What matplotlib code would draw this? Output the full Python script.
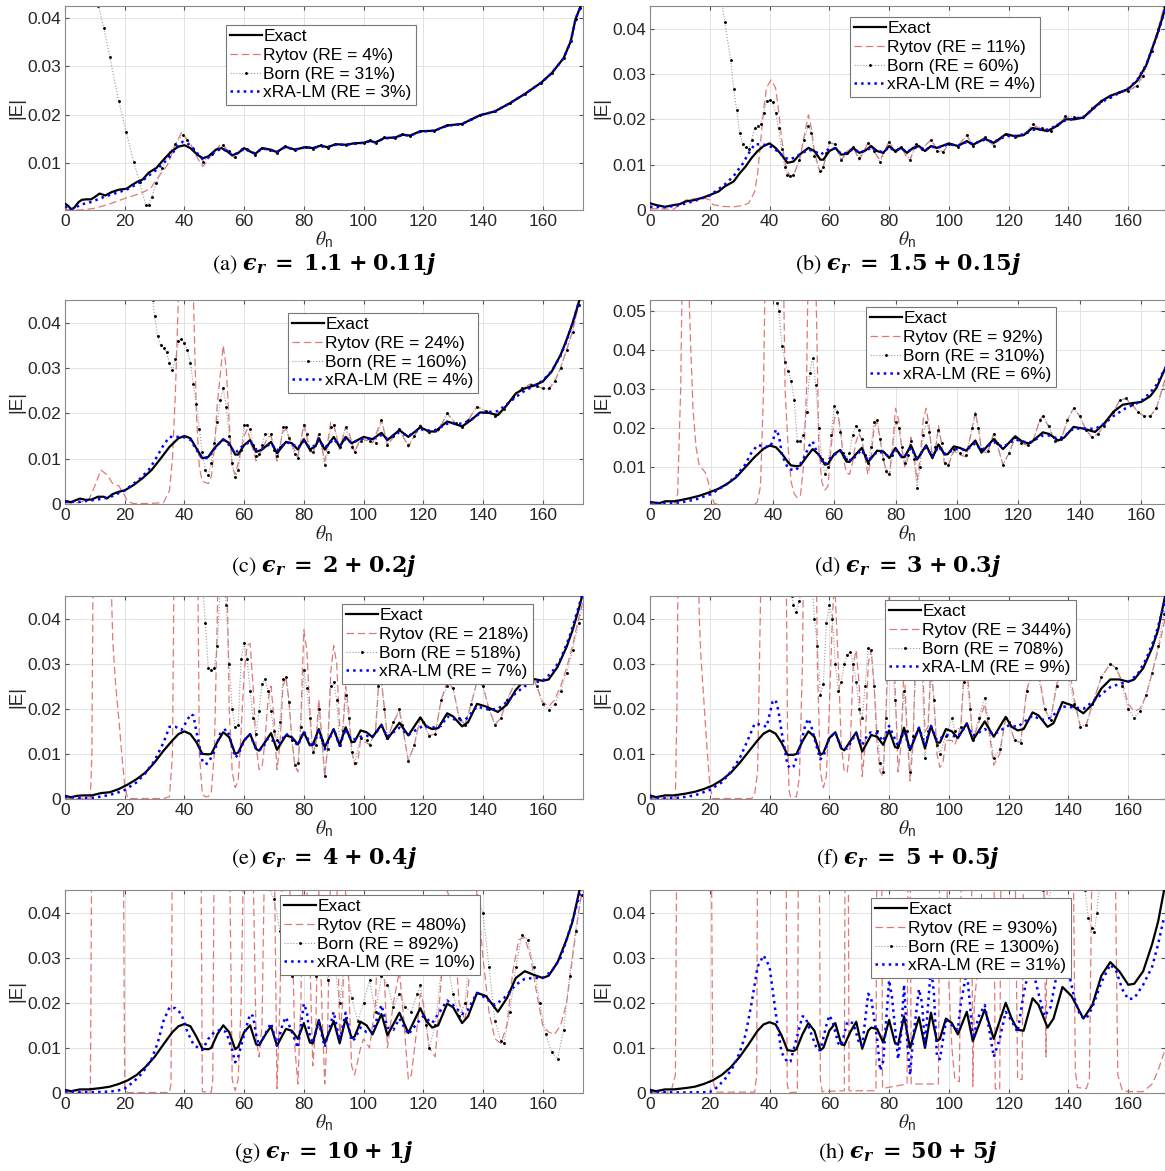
import matplotlib
matplotlib.use("Agg")
import matplotlib.pyplot as plt
from matplotlib.ticker import FuncFormatter
import numpy as np

plt.rcParams['font.family'] = ['Liberation Sans', 'DejaVu Sans']
plt.rcParams['mathtext.fontset'] = 'stix'

# ---------------- data: (theta_n, |E|) ----------------
a_exact = [(0,0.0016),(1,0.0012),(2,0.0005),(3,0.0007),(4.5,0.0019),(5.6,0.0024),(7,0.0025),(8.7,0.0025),(10,0.003),(11.6,0.0037),(13.5,0.0033),(15.6,0.004),(18,0.0045),(20.6,0.0047),(22.5,0.0055),(24.4,0.0062),(26,0.0066),(28,0.008),(30.6,0.009),(33,0.0107),(35.6,0.0124),(38,0.0134),(40,0.0137),(42,0.0131),(44.4,0.0117),(46.2,0.011),(48,0.0114),(50.6,0.0128),(52.5,0.0131),(54.4,0.0124),(56,0.0116),(58,0.0121),(60,0.0131),(62,0.0124),(63.7,0.0119),(66,0.0131),(68.7,0.0128),(71,0.0123),(73.7,0.0134),(77,0.0128),(80.6,0.0133),(83,0.0131),(85.6,0.0136),(88,0.0133),(90.6,0.0139),(94,0.0138),(97,0.0141),(100,0.0142),(102,0.0146),(104,0.0143),(107,0.0152),(110.6,0.0153),(113,0.0159),(115.6,0.0157),(119,0.0166),(123.7,0.0167),(128,0.0178),(133,0.0181),(136,0.019),(139,0.0199),(144,0.0207),(149,0.0224),(154,0.0243),(159.4,0.0266),(163,0.0286),(167,0.0317),(169.4,0.0352),(171,0.0398),(172.5,0.0421),(173.5,0.0445)]
a_rytov = [(0,0.0004),(5,0.0003),(9.4,0.0006),(12,0.001),(15.6,0.0017),(20.6,0.0028),(25.6,0.0038),(28.7,0.0048),(31,0.0069),(34.4,0.0097),(37,0.0138),(39,0.0163),(42,0.0141),(44.4,0.011),(46.2,0.0093),(48.7,0.0114),(52,0.0138),(53,0.0137),(55,0.0121),(57,0.011),(59.4,0.0131),(61,0.013),(63.7,0.0117),(66,0.0132),(68.7,0.0128),(71,0.0121),(73.7,0.0135),(77,0.0127),(80.6,0.0134),(83,0.013),(85.6,0.0137),(88,0.0132),(90.6,0.014),(94,0.0137),(97,0.0142),(100,0.0142),(102,0.0147),(104,0.0142),(107,0.0153),(110.6,0.0152),(113,0.016),(115.6,0.0156),(119,0.0167),(123.7,0.0166),(128,0.0179),(133,0.018),(136,0.0191),(139,0.0199),(144,0.0207),(149,0.0224),(154,0.0243),(159.4,0.0266),(163,0.0286),(167,0.0317),(169.4,0.0352),(171,0.0398),(172.5,0.0421),(173.5,0.0445)]
a_born = [(0,0.075),(5,0.062),(10,0.047),(11.2,0.0425),(13,0.0379),(15,0.032),(18,0.0228),(20.5,0.0165),(23,0.0103),(25,0.006),(27,0.0014),(28,0.0014),(29,0.003),(30.6,0.0058),(32.5,0.009),(34.4,0.0117),(37,0.014),(39.4,0.0159),(41,0.0148),(43,0.013),(46.2,0.0103),(49.4,0.0118),(53,0.0138),(55,0.0125),(57,0.0112),(59.4,0.013),(61,0.013),(63.7,0.0117),(66,0.0132),(68.7,0.0128),(71,0.0121),(73.7,0.0135),(77,0.0127),(80.6,0.0134),(83,0.013),(85.6,0.0137),(88,0.0132),(90.6,0.014),(94,0.0137),(97,0.0142),(100,0.0142),(102,0.0147),(104,0.0142),(107,0.0153),(110.6,0.0152),(113,0.016),(115.6,0.0156),(119,0.0167),(123.7,0.0166),(128,0.0179),(133,0.018),(136,0.0191),(139,0.0199),(144,0.0207),(149,0.0224),(154,0.0243),(159.4,0.0266),(163,0.0286),(167,0.0317),(169.4,0.0352),(171,0.0398),(172.5,0.0421),(173.5,0.0445)]
a_xra = [(0,0.001),(2,0.0004),(3,0.0005),(5,0.0014),(8,0.0018),(10.6,0.0024),(13,0.003),(15.6,0.0035),(18,0.004),(20.6,0.0045),(23,0.0053),(25.6,0.0062),(28,0.0074),(30.6,0.0086),(33,0.01),(35.6,0.0117),(38,0.0138),(39.4,0.0144),(41,0.0141),(43,0.013),(45,0.0115),(46.2,0.0108),(48,0.0112),(50.6,0.0125),(52.5,0.013),(54.4,0.0124),(56,0.0117),(58,0.0121),(60,0.013),(62,0.0124),(63.7,0.012),(66,0.013),(68.7,0.0128),(71,0.0123),(73.7,0.0133),(77,0.0128),(80.6,0.0133),(83,0.0131),(85.6,0.0135),(88,0.0133),(90.6,0.0138),(94,0.0138),(97,0.014),(100,0.0142),(102,0.0145),(104,0.0143),(107,0.0151),(110.6,0.0153),(113,0.0158),(115.6,0.0157),(119,0.0165),(123.7,0.0167),(128,0.0177),(133,0.0181),(136,0.019),(139,0.0199),(144,0.0207),(149,0.0224),(154,0.0243),(159.4,0.0266),(163,0.0286),(167,0.0317),(169.4,0.0352),(171,0.0398),(172.5,0.0421),(173.5,0.0445)]

b_exact = [(0,0.0015),(2,0.0011),(5,0.0007),(8,0.0011),(10,0.0013),(12,0.0019),(15,0.0022),(18,0.0028),(20,0.0033),(23,0.0041),(25,0.0052),(28,0.0063),(30,0.0081),(32,0.0096),(34,0.0115),(36,0.013),(38,0.0141),(40,0.0147),(42,0.0137),(44,0.0122),(46,0.0104),(48,0.0107),(50,0.0122),(53,0.0137),(55,0.013),(57,0.0111),(58,0.0111),(60,0.013),(62,0.0137),(64,0.0122),(66,0.0124),(68,0.0137),(70,0.0126),(72,0.0131),(74,0.0141),(76,0.013),(78,0.0126),(80,0.0141),(82,0.013),(84,0.0137),(86,0.0126),(88,0.0137),(90,0.0141),(92,0.013),(94,0.0141),(96,0.0137),(100,0.0147),(103,0.0141),(106,0.0152),(108,0.0144),(112,0.0157),(115,0.0148),(119,0.0167),(122,0.0163),(125,0.0165),(128,0.0181),(130,0.0178),(133,0.0174),(136,0.0185),(139,0.02),(142,0.02),(145,0.0204),(148,0.0222),(151,0.024),(154,0.0252),(157,0.0259),(160,0.0267),(163,0.0285),(166,0.0319),(168,0.0356),(170,0.0393),(172,0.0437),(173,0.047)]
b_rytov = [(0,0.0003),(5,0.0002),(8,0.0002),(10,0.0012),(12,0.0022),(15,0.0025),(18,0.0027),(20,0.0022),(21,0.0012),(24,0.0008),(28,0.0007),(31,0.001),(33,0.0015),(35,0.004),(36,0.008),(37,0.015),(38,0.022),(39,0.027),(40.5,0.0287),(42,0.027),(43,0.022),(44,0.016),(45,0.011),(46,0.0085),(47,0.0075),(48,0.0076),(50,0.011),(51.5,0.016),(53,0.021),(54,0.018),(55,0.013),(56.5,0.009),(57.5,0.0085),(59,0.012),(60,0.0148),(62,0.0145),(64,0.011),(66,0.013),(68,0.0138),(70,0.011),(72,0.0135),(73,0.015),(75,0.0128),(77,0.011),(80,0.0152),(82,0.0125),(84,0.014),(86,0.0115),(87,0.011),(89,0.0148),(91,0.0135),(94,0.0155),(96,0.0135),(98,0.0128),(100,0.0145),(103,0.0142),(106,0.0165),(108,0.0142),(112,0.016),(115,0.0142),(118,0.016),(120,0.0168),(123,0.016),(126,0.017),(128,0.0188),(131,0.0178),(134,0.0178),(136,0.0185),(139,0.0205),(141,0.0203),(145,0.0205),(148,0.0225),(151,0.0242),(154,0.025),(157,0.026),(160,0.0262),(163,0.0275),(165,0.03),(168,0.0355),(170,0.04),(172,0.045)]
b_born = [(0,0.09),(10,0.08),(20,0.06),(24,0.046),(25,0.0415),(27,0.033),(28,0.0268),(29,0.022),(30,0.017),(31,0.0145),(32,0.0138),(33,0.0135),(34,0.0155),(35,0.018),(36,0.0185),(37,0.019),(38,0.0215),(39,0.024),(40,0.0242),(41,0.0238),(42,0.0215),(43,0.018),(44,0.0135),(45,0.0095),(46,0.0078),(47,0.0075),(48,0.0078),(50,0.011),(51.5,0.0155),(53,0.0185),(54,0.017),(55,0.012),(57,0.0085),(58,0.0095),(59,0.0125),(60,0.015),(62,0.0145),(64,0.011),(66,0.0125),(68,0.014),(70,0.0115),(73,0.0148),(75,0.013),(77,0.0105),(80,0.015),(82,0.013),(84,0.014),(87,0.011),(89,0.0145),(91,0.0135),(94,0.0155),(96,0.013),(98,0.0128),(100,0.0145),(103,0.014),(106,0.0165),(108,0.0142),(112,0.016),(115,0.0142),(119,0.0168),(122,0.0162),(126,0.0172),(128,0.019),(131,0.018),(134,0.0175),(136,0.0188),(139,0.0207),(142,0.0205),(145,0.0205),(148,0.0225),(151,0.024),(154,0.025),(157,0.026),(160,0.0263),(163,0.0273),(165,0.0295),(168,0.035),(170,0.04),(172,0.045)]
b_xra = [(0,0.0007),(5,0.0006),(10,0.0011),(15,0.002),(20,0.0032),(25,0.0056),(28,0.0075),(31,0.0102),(33,0.0125),(35,0.0145),(37,0.0145),(39,0.0143),(41,0.0138),(43,0.0128),(45,0.0115),(47,0.0112),(49,0.0118),(51,0.0126),(53,0.0133),(55,0.013),(57,0.0122),(60,0.0135),(62,0.0135),(64,0.0124),(66,0.0126),(68,0.0135),(70,0.0127),(72,0.013),(74,0.0138),(76,0.013),(78,0.0128),(80,0.0138),(82,0.013),(84,0.0136),(86,0.0128),(88,0.0136),(90,0.0139),(92,0.0132),(94,0.014),(96,0.0137),(100,0.0145),(103,0.0142),(106,0.015),(108,0.0146),(112,0.0155),(115,0.015),(119,0.0163),(122,0.0163),(125,0.0167),(128,0.0177),(130,0.0177),(133,0.0177),(136,0.0186),(139,0.0198),(142,0.0201),(145,0.0205),(148,0.0222),(151,0.0238),(154,0.0248),(157,0.0258),(160,0.0268),(163,0.0287),(166,0.032),(168,0.0356),(170,0.0392),(172,0.0435),(173,0.047)]

c_exact = [(0,0.0007),(2,0.0004),(3.5,0.0008),(5,0.0012),(7,0.0009),(9,0.001),(11,0.0016),(13,0.0016),(14,0.0012),(16,0.0022),(18,0.0027),(20,0.003),(23,0.0042),(26,0.0057),(29,0.0075),(32,0.01),(35,0.0126),(38,0.0145),(40,0.015),(42,0.0145),(44,0.0123),(46,0.0101),(48,0.0104),(50,0.0123),(53,0.0143),(55,0.0134),(57,0.0109),(58,0.0109),(60,0.013),(62,0.0141),(64,0.0115),(66,0.012),(69,0.0137),(71,0.0112),(74,0.0137),(76,0.0134),(78,0.012),(80,0.0143),(82,0.012),(84,0.0128),(85,0.0145),(87,0.012),(90,0.0148),(92,0.0126),(94,0.0148),(96,0.0134),(98,0.0141),(100,0.0148),(103,0.0143),(106,0.0157),(108,0.0141),(112,0.0163),(115,0.0148),(119,0.0169),(122,0.016),(124,0.016),(128,0.0182),(130,0.0178),(133,0.0171),(136,0.0185),(139,0.0202),(142,0.0201),(145,0.0196),(148,0.0218),(151,0.0244),(154,0.0255),(157,0.0261),(160,0.027),(163,0.0292),(166,0.0329),(168,0.0362),(170,0.0399),(172,0.0443),(173.5,0.048)]
c_rytov = [(0,0.0002),(5,0.0003),(8,0.001),(10,0.004),(12,0.0075),(14,0.0065),(16,0.0045),(18,0.004),(19.5,0.0025),(21,0.0005),(23,0.0001),(28,0.0001),(33,0.0003),(35,0.003),(36,0.01),(37,0.025),(38,0.046),(39,0.062),(40.5,0.068),(42,0.058),(43,0.046),(44,0.02),(45,0.008),(46,0.005),(48,0.0045),(49,0.006),(50,0.012),(51,0.022),(53,0.035),(54,0.03),(55,0.018),(56,0.008),(57,0.0065),(58,0.009),(60,0.015),(61,0.0165),(63,0.012),(64,0.0095),(66,0.012),(68,0.0148),(69,0.015),(71,0.0095),(73,0.016),(74,0.0165),(76,0.013),(78,0.0105),(80,0.0175),(82,0.012),(83,0.011),(85,0.0155),(87,0.0095),(89,0.018),(90,0.0175),(92,0.012),(94,0.017),(95,0.016),(97,0.0115),(99,0.0145),(101,0.014),(103,0.0135),(106,0.0185),(108,0.013),(112,0.0165),(115,0.0125),(119,0.0175),(122,0.0155),(125,0.016),(128,0.02),(131,0.0175),(133,0.017),(135,0.0185),(138,0.0215),(141,0.0205),(144,0.0195),(147,0.021),(150,0.0235),(153,0.0255),(156,0.0265),(158,0.026),(160,0.0255),(162,0.0252),(164,0.027),(166,0.03),(168,0.034),(170,0.038),(172,0.044),(173.5,0.048)]
c_born = [(0,0.09),(10,0.08),(20,0.065),(27,0.052),(29.4,0.045),(30,0.0415),(31,0.037),(32,0.035),(33,0.0345),(34,0.0335),(35,0.031),(36,0.0295),(37,0.032),(38,0.036),(39,0.0365),(40,0.0355),(41,0.034),(42,0.031),(43,0.0265),(44,0.022),(45,0.0165),(46,0.0115),(47,0.0075),(48,0.0065),(49,0.009),(50,0.0135),(51,0.018),(52,0.023),(53,0.0255),(54,0.0215),(55,0.015),(56,0.009),(57,0.006),(58,0.0075),(59,0.012),(60,0.0175),(61,0.0175),(62,0.0165),(63,0.013),(64,0.0105),(65,0.011),(66,0.013),(67,0.0155),(69,0.0155),(70,0.012),(71,0.0105),(72,0.0125),(73,0.017),(74,0.017),(75,0.0145),(77,0.011),(78,0.0102),(80,0.0175),(81,0.0155),(82,0.012),(83,0.0115),(85,0.0155),(86,0.013),(87,0.0085),(88,0.0115),(89,0.017),(90,0.0175),(92,0.0125),(94,0.017),(96,0.0125),(97,0.0115),(99,0.014),(102,0.014),(104,0.0135),(106,0.0185),(108,0.013),(110,0.015),(112,0.0165),(115,0.013),(117,0.015),(119,0.0173),(122,0.0158),(125,0.0165),(128,0.02),(131,0.0178),(133,0.017),(135,0.0185),(138,0.0215),(141,0.0205),(144,0.0195),(147,0.021),(150,0.0235),(153,0.0255),(156,0.0262),(158,0.026),(160,0.0255),(162,0.0255),(164,0.0272),(166,0.03),(168,0.034),(170,0.038),(172,0.044),(173.5,0.048)]
c_xra = [(0,0.0005),(5,0.0005),(10,0.0009),(15,0.0015),(20,0.003),(25,0.0055),(28,0.0075),(30,0.0095),(33,0.013),(35,0.0148),(38,0.0148),(40,0.0147),(42,0.0142),(44,0.012),(46,0.01),(48,0.0102),(51,0.013),(53,0.0142),(55,0.013),(57,0.0112),(59,0.0125),(62,0.0138),(64,0.012),(66,0.0122),(69,0.0133),(71,0.0118),(74,0.0136),(76,0.0133),(78,0.0124),(80,0.0138),(82,0.0124),(84,0.013),(85,0.0141),(87,0.0124),(90,0.0143),(92,0.0129),(94,0.0144),(96,0.0135),(98,0.014),(100,0.0145),(103,0.0143),(106,0.0152),(108,0.0144),(112,0.0158),(115,0.015),(119,0.0165),(122,0.0162),(124,0.0163),(128,0.0177),(130,0.0178),(133,0.0177),(136,0.0186),(139,0.02),(142,0.0203),(145,0.0205),(148,0.022),(151,0.0236),(154,0.025),(157,0.026),(160,0.0272),(163,0.0293),(166,0.0327),(168,0.036),(170,0.0398),(172,0.0443),(173.5,0.048)]

d_exact = [(0,0.0009),(3,0.0006),(5,0.0011),(8,0.0011),(10,0.0014),(13,0.0019),(16,0.0025),(19,0.0033),(22,0.0042),(25,0.0055),(28,0.0072),(31,0.0098),(34,0.0124),(37,0.0146),(39,0.0154),(41,0.015),(43,0.0133),(45,0.0111),(46,0.0103),(48,0.0101),(49,0.0103),(51,0.0125),(53,0.0145),(55,0.0131),(57,0.0105),(58,0.0107),(60,0.0132),(62,0.0143),(64,0.0113),(65,0.0112),(67,0.0131),(69,0.0148),(71,0.0111),(74,0.0141),(76,0.0139),(78,0.0122),(80,0.0148),(82,0.0124),(83,0.0125),(85,0.0155),(87,0.0118),(90,0.0155),(92,0.0122),(94,0.0157),(96,0.0131),(97,0.0132),(99,0.0152),(101,0.0148),(103,0.0141),(106,0.0167),(108,0.0136),(112,0.0171),(115,0.0145),(119,0.0178),(121,0.0166),(123,0.016),(124,0.0161),(128,0.0188),(130,0.0184),(133,0.0167),(135,0.0175),(138,0.0202),(141,0.0198),(145,0.0189),(148,0.0211),(151,0.0241),(154,0.0259),(157,0.0263),(160,0.0266),(163,0.0281),(165,0.0302),(168,0.0355)]
d_rytov = [(0,0.0001),(8,0.0002),(9,0.003),(10,0.03),(10.5,0.06),(12.5,0.06),(13.3,0.04),(14,0.025),(15,0.015),(16,0.0105),(18,0.0085),(19,0.006),(20,0.0025),(21,0.0005),(25,0.0001),(34,0.0002),(35,0.001),(36,0.005),(37,0.03),(37.5,0.06),(43.5,0.06),(44,0.03),(45,0.015),(46,0.006),(47,0.003),(48,0.002),(49,0.0025),(50,0.01),(51,0.03),(51.5,0.06),(54,0.06),(55,0.015),(56,0.006),(57,0.004),(58,0.005),(59,0.015),(60,0.022),(61,0.0245),(62,0.02),(63,0.012),(64,0.0085),(65,0.008),(66,0.011),(67,0.016),(68,0.0185),(69,0.017),(70,0.0125),(71,0.008),(72,0.012),(73,0.02),(74,0.0215),(75,0.017),(76,0.012),(77,0.0085),(78,0.008),(79,0.015),(80,0.025),(81,0.022),(82,0.015),(83,0.01),(84,0.012),(85,0.0175),(86,0.013),(87,0.0065),(88,0.012),(89,0.022),(90,0.025),(91,0.02),(92,0.012),(93,0.014),(94,0.0205),(95,0.016),(96,0.0105),(97,0.01),(99,0.014),(101,0.013),(103,0.0125),(105,0.02),(106,0.024),(107,0.02),(108,0.014),(110,0.0135),(112,0.0185),(113,0.016),(115,0.0105),(117,0.0135),(119,0.0175),(121,0.016),(123,0.0155),(125,0.017),(127,0.022),(128,0.023),(130,0.02),(132,0.0165),(134,0.017),(136,0.022),(138,0.025),(140,0.023),(142,0.0195),(144,0.0175),(146,0.0185),(148,0.0205),(151,0.024),(153,0.027),(155,0.0275),(157,0.026),(159,0.024),(161,0.023),(163,0.023),(165,0.025),(168,0.033)]
d_born = [(0,0.1),(20,0.09),(35,0.07),(40,0.058),(41.5,0.052),(42,0.05),(43,0.041),(44,0.037),(45,0.0345),(46,0.032),(47,0.027),(48,0.0165),(49,0.0165),(50,0.018),(51,0.024),(52,0.034),(53,0.038),(54,0.031),(55,0.02),(56,0.012),(57,0.008),(58,0.01),(59,0.018),(60,0.0255),(61,0.024),(62,0.019),(63,0.0135),(64,0.012),(65,0.0135),(66,0.018),(67,0.0205),(68,0.0195),(69,0.017),(70,0.013),(71,0.011),(72,0.015),(73,0.0215),(74,0.022),(75,0.017),(76,0.012),(77,0.009),(78,0.008),(79,0.013),(80,0.0215),(81,0.02),(82,0.015),(83,0.011),(84,0.013),(85,0.0165),(86,0.012),(87,0.0045),(88,0.01),(89,0.018),(90,0.0215),(91,0.019),(92,0.013),(93,0.015),(94,0.0195),(95,0.016),(96,0.011),(97,0.0105),(99,0.0145),(101,0.0135),(103,0.013),(105,0.02),(106,0.0235),(107,0.02),(108,0.0145),(110,0.014),(112,0.0185),(113,0.016),(115,0.0105),(117,0.0135),(119,0.0175),(121,0.016),(123,0.0155),(125,0.017),(127,0.022),(128,0.023),(130,0.0205),(132,0.0165),(134,0.017),(136,0.022),(138,0.025),(140,0.023),(142,0.0195),(144,0.0175),(146,0.0185),(148,0.0205),(151,0.024),(153,0.027),(155,0.0275),(157,0.026),(159,0.024),(161,0.023),(163,0.023),(165,0.025),(168,0.032)]
d_xra = [(0,0.0008),(5,0.0005),(10,0.0008),(15,0.0016),(20,0.003),(25,0.0055),(28,0.0075),(31,0.0105),(33,0.0135),(35,0.0155),(37,0.0153),(39,0.015),(40,0.0165),(41,0.0195),(42,0.018),(43,0.013),(45,0.0095),(47,0.009),(48,0.0095),(50,0.012),(52,0.0155),(53,0.0165),(54,0.0145),(56,0.0115),(57,0.0105),(59,0.0125),(62,0.014),(64,0.012),(66,0.0115),(67,0.0128),(69,0.0143),(71,0.0115),(74,0.0138),(76,0.0136),(78,0.0125),(80,0.0143),(82,0.0126),(83,0.0127),(85,0.0148),(87,0.0122),(90,0.015),(92,0.0126),(94,0.0151),(96,0.0133),(97,0.0134),(99,0.0145),(101,0.0145),(103,0.0142),(106,0.016),(108,0.0142),(112,0.0163),(115,0.015),(119,0.017),(121,0.0165),(123,0.0162),(124,0.0163),(128,0.018),(130,0.018),(133,0.0172),(135,0.0178),(138,0.0198),(141,0.0198),(145,0.0197),(148,0.021),(151,0.023),(155,0.025),(160,0.0268),(163,0.029),(165,0.031),(168,0.0355)]

e_exact = [(0,0.0007),(2,0.0004),(4,0.0007),(6,0.0008),(9,0.0008),(12,0.0013),(15,0.0015),(18,0.0022),(21,0.0032),(24,0.0044),(27,0.0059),(30,0.0081),(33,0.0107),(36,0.013),(38,0.0144),(40,0.015),(42,0.0144),(44,0.0126),(46,0.01),(48,0.0099),(49,0.01),(51,0.0126),(53,0.0148),(55,0.0137),(57,0.01),(58,0.0103),(60,0.013),(62,0.0144),(64,0.0111),(65,0.0107),(67,0.0126),(69,0.0146),(71,0.0109),(74,0.0141),(76,0.0137),(78,0.0121),(80,0.0148),(82,0.0119),(83,0.012),(85,0.0155),(87,0.0115),(90,0.0155),(92,0.0119),(94,0.0159),(96,0.0126),(97,0.0127),(99,0.0152),(101,0.0148),(103,0.0137),(106,0.0165),(108,0.0133),(112,0.0169),(115,0.0141),(119,0.0181),(121,0.0161),(123,0.0155),(125,0.0157),(128,0.019),(130,0.0183),(133,0.0161),(135,0.017),(138,0.0211),(141,0.0205),(145,0.0193),(148,0.0209),(151,0.0242),(154,0.0264),(157,0.0266),(160,0.0262),(162,0.0265),(165,0.0293),(168,0.0337),(170,0.0374),(172,0.0419),(174,0.047)]
e_rytov = [(0,0.0001),(8.5,0.0002),(9,0.01),(9.5,0.06),(15,0.06),(15.6,0.045),(16,0.035),(17,0.025),(18,0.018),(19,0.01),(20,0.003),(21,0.0001),(33,0.0001),(35,0.0005),(36,0.01),(36.5,0.05),(37,0.06),(44,0.06),(44.5,0.05),(45,0.01),(46,0.001),(47,0.0005),(48,0.0005),(49,0.0015),(50,0.01),(51,0.04),(51.5,0.06),(54,0.06),(54.5,0.04),(55,0.02),(56,0.006),(57,0.0025),(58,0.004),(59,0.015),(60,0.028),(61,0.034),(62,0.0345),(63,0.025),(64,0.012),(65,0.0065),(66,0.007),(67,0.013),(68,0.022),(69,0.025),(70,0.018),(71,0.0065),(72,0.012),(73,0.025),(74,0.027),(75,0.022),(76,0.013),(77,0.0075),(78,0.006),(79,0.018),(80,0.0375),(81,0.033),(82,0.02),(83,0.01),(84,0.012),(85,0.022),(86,0.014),(87,0.005),(88,0.012),(89,0.028),(90,0.034),(91,0.03),(92,0.016),(93,0.015),(94,0.025),(95,0.02),(96,0.011),(97,0.0075),(98,0.008),(99,0.013),(101,0.0125),(102,0.012),(104,0.015),(105,0.025),(106,0.026),(107,0.02),(108,0.0135),(110,0.017),(112,0.0195),(113,0.016),(115,0.0085),(117,0.012),(119,0.018),(120,0.017),(122,0.014),(124,0.0145),(126,0.022),(128,0.026),(130,0.0245),(132,0.018),(134,0.0165),(136,0.021),(138,0.026),(140,0.025),(142,0.02),(144,0.0165),(146,0.018),(148,0.022),(151,0.026),(154,0.029),(156,0.028),(158,0.025),(160,0.0215),(162,0.0205),(164,0.022),(166,0.025),(168,0.029),(170,0.034),(172,0.04),(174,0.045)]
e_born = [(0,0.1),(30,0.08),(45,0.05),(46,0.048),(47,0.039),(48,0.029),(49,0.0285),(50,0.029),(51,0.034),(52,0.047),(53,0.052),(54,0.043),(55,0.03),(56,0.02),(57,0.016),(58,0.0165),(59,0.031),(60,0.0345),(61,0.031),(62,0.024),(63,0.018),(64,0.0145),(65,0.0195),(66,0.0255),(67,0.0265),(68,0.024),(69,0.0195),(70,0.015),(71,0.013),(72,0.017),(73,0.0265),(74,0.027),(75,0.0215),(76,0.013),(77,0.0075),(78,0.008),(79,0.016),(80,0.0285),(81,0.0245),(82,0.018),(83,0.0105),(84,0.012),(85,0.02),(86,0.013),(87,0.005),(88,0.011),(89,0.025),(90,0.026),(91,0.022),(92,0.012),(93,0.015),(94,0.023),(95,0.018),(96,0.0105),(97,0.008),(99,0.0135),(101,0.013),(102,0.012),(104,0.015),(105,0.025),(106,0.026),(107,0.02),(108,0.0135),(110,0.017),(112,0.02),(113,0.0165),(115,0.0085),(117,0.012),(119,0.018),(120,0.017),(122,0.014),(124,0.0145),(126,0.022),(128,0.025),(130,0.0245),(132,0.018),(134,0.0165),(136,0.021),(138,0.026),(140,0.025),(142,0.02),(144,0.0165),(146,0.018),(148,0.022),(151,0.026),(154,0.029),(156,0.028),(158,0.025),(160,0.021),(162,0.0198),(164,0.021),(166,0.024),(168,0.028),(170,0.033),(172,0.039),(174,0.044)]
e_xra = [(0,0.0005),(5,0.0002),(10,0.0003),(15,0.0009),(18,0.0015),(20,0.002),(24,0.0037),(27,0.0058),(30,0.0085),(33,0.0125),(35,0.016),(37,0.016),(39,0.0153),(41,0.0175),(42,0.0188),(43,0.0185),(44,0.015),(46,0.0085),(47,0.0077),(48,0.008),(50,0.0105),(52,0.0145),(54,0.0155),(55,0.0142),(57,0.0092),(58,0.0098),(60,0.013),(62,0.0143),(64,0.011),(66,0.011),(68,0.0135),(70,0.0128),(72,0.0125),(74,0.0145),(76,0.0135),(78,0.0118),(80,0.015),(82,0.0125),(83,0.0115),(85,0.015),(87,0.011),(90,0.0155),(92,0.0118),(94,0.0155),(96,0.013),(99,0.0138),(101,0.014),(103,0.0138),(106,0.0162),(108,0.0138),(112,0.0158),(115,0.0142),(118,0.0155),(120,0.0162),(123,0.0158),(126,0.0162),(128,0.0183),(131,0.0175),(134,0.0175),(138,0.0205),(142,0.0198),(145,0.02),(148,0.0215),(151,0.0235),(154,0.025),(157,0.0258),(160,0.0262),(163,0.028),(166,0.031),(169,0.036),(172,0.0425),(174,0.047)]

f_exact = [(0,0.0008),(2,0.0004),(5,0.0008),(8,0.0008),(12,0.0012),(15,0.0016),(18,0.0022),(21,0.003),(24,0.0042),(27,0.0058),(30,0.008),(33,0.0105),(36,0.013),(38,0.0145),(40,0.0152),(42,0.0145),(44,0.0125),(46,0.0098),(48,0.0098),(49,0.01),(51,0.0128),(53,0.015),(55,0.0138),(57,0.0098),(58,0.0102),(60,0.0135),(62,0.0148),(64,0.0112),(65,0.0108),(67,0.0128),(69,0.0148),(71,0.0105),(74,0.0142),(76,0.0138),(78,0.012),(80,0.0152),(82,0.0115),(83,0.0113),(85,0.0158),(87,0.0108),(90,0.0158),(92,0.0112),(94,0.0162),(96,0.0125),(97,0.0125),(99,0.0155),(101,0.015),(103,0.0135),(106,0.0168),(108,0.013),(112,0.0172),(115,0.0138),(119,0.0182),(121,0.016),(123,0.0152),(125,0.0155),(128,0.0192),(130,0.0185),(133,0.016),(135,0.0168),(138,0.0215),(141,0.0208),(145,0.019),(148,0.021),(151,0.0245),(154,0.0265),(157,0.0265),(160,0.026),(162,0.0265),(165,0.029),(168,0.0335),(170,0.0375),(172,0.044),(173,0.047)]
f_rytov = [(0,0.0001),(8.5,0.0002),(9,0.02),(9.5,0.06),(16,0.06),(16.5,0.04),(17,0.032),(18,0.022),(19,0.012),(20,0.003),(21,0.0001),(34,0.0001),(35,0.001),(36,0.006),(37,0.045),(37.5,0.06),(45.5,0.06),(46,0.015),(46.5,0.002),(47,0.0005),(49,0.0005),(50,0.005),(51,0.03),(51.5,0.06),(55.5,0.06),(56,0.03),(57,0.006),(58,0.0025),(59,0.005),(60,0.02),(61,0.04),(61.5,0.046),(62,0.045),(63,0.03),(64,0.012),(65,0.006),(66,0.006),(67,0.012),(68,0.03),(69,0.033),(70,0.025),(71,0.005),(72,0.012),(73,0.03),(74,0.033),(75,0.025),(76,0.012),(77,0.006),(78,0.005),(79,0.02),(80,0.045),(81,0.04),(82,0.025),(83,0.006),(84,0.012),(85,0.03),(86,0.015),(87,0.004),(88,0.012),(89,0.035),(90,0.045),(91,0.035),(92,0.015),(93,0.016),(94,0.03),(95,0.022),(96,0.01),(97,0.007),(98,0.008),(99,0.013),(101,0.013),(102,0.012),(104,0.016),(105,0.028),(106,0.029),(107,0.022),(108,0.013),(110,0.017),(112,0.021),(113,0.017),(115,0.0075),(117,0.01),(119,0.018),(120,0.017),(122,0.013),(124,0.0125),(126,0.024),(128,0.029),(130,0.0285),(132,0.02),(134,0.0175),(136,0.025),(138,0.033),(140,0.03),(142,0.022),(144,0.016),(146,0.0165),(148,0.021),(151,0.027),(154,0.03),(156,0.029),(158,0.026),(160,0.021),(162,0.0195),(164,0.02),(166,0.023),(168,0.028),(170,0.033),(172,0.039),(173,0.042)]
f_born = [(0,0.1),(30,0.08),(45,0.05),(47.5,0.045),(48,0.043),(49,0.0415),(50,0.044),(51,0.048),(53,0.06),(55,0.04),(56,0.034),(57,0.023),(58,0.0255),(59,0.039),(60,0.043),(61,0.04),(62,0.03),(63,0.024),(64,0.026),(65,0.03),(66,0.032),(67,0.0325),(68,0.03),(69,0.026),(70,0.02),(71,0.018),(72,0.025),(73,0.0335),(74,0.033),(75,0.025),(76,0.015),(77,0.008),(78,0.006),(79,0.018),(80,0.035),(81,0.03),(82,0.022),(83,0.012),(84,0.014),(85,0.024),(86,0.015),(87,0.006),(88,0.014),(89,0.032),(90,0.036),(91,0.03),(92,0.009),(93,0.015),(94,0.028),(95,0.022),(96,0.012),(97,0.01),(99,0.014),(101,0.018),(102,0.015),(104,0.016),(105,0.026),(106,0.027),(107,0.02),(108,0.013),(110,0.018),(112,0.0225),(113,0.018),(115,0.009),(117,0.011),(119,0.018),(120,0.017),(122,0.013),(124,0.0125),(126,0.024),(128,0.028),(130,0.027),(132,0.02),(134,0.0175),(136,0.025),(138,0.029),(140,0.027),(142,0.021),(144,0.016),(146,0.0165),(148,0.021),(151,0.027),(154,0.03),(156,0.029),(158,0.025),(160,0.02),(162,0.018),(164,0.0195),(166,0.023),(168,0.028),(170,0.034),(172,0.041),(173,0.044)]
f_xra = [(0,0.0004),(5,0.0002),(10,0.0003),(15,0.0008),(20,0.002),(24,0.0037),(27,0.006),(30,0.009),(33,0.0135),(35,0.0167),(37,0.0165),(39,0.016),(41,0.0215),(42,0.022),(43,0.0195),(44,0.015),(46,0.0075),(47,0.0068),(48,0.0072),(50,0.011),(52,0.0165),(53,0.0178),(54,0.016),(56,0.011),(57,0.0088),(58,0.0095),(60,0.0135),(62,0.0148),(64,0.0112),(66,0.0112),(68,0.0135),(69,0.0145),(71,0.012),(73,0.0145),(74,0.0148),(76,0.0145),(78,0.0128),(80,0.0162),(82,0.0132),(83,0.0118),(85,0.015),(87,0.011),(90,0.0158),(92,0.012),(94,0.0162),(96,0.013),(99,0.0142),(101,0.014),(103,0.0138),(106,0.0165),(108,0.014),(112,0.0155),(115,0.0143),(118,0.0155),(120,0.0163),(123,0.016),(126,0.0175),(128,0.0185),(131,0.0175),(134,0.018),(138,0.0205),(142,0.0203),(145,0.02),(148,0.0215),(151,0.0232),(154,0.0248),(157,0.0255),(160,0.026),(163,0.0275),(166,0.031),(169,0.036),(172,0.043),(173,0.046)]

g_exact = [(0,0.0007),(2,0.0004),(5,0.0008),(8,0.0008),(12,0.0011),(15,0.0014),(18,0.002),(21,0.0028),(24,0.004),(27,0.0058),(30,0.008),(33,0.0108),(36,0.0135),(38,0.0148),(40,0.0153),(42,0.0148),(44,0.0125),(46,0.0098),(48,0.0097),(49,0.01),(51,0.013),(53,0.015),(55,0.0135),(57,0.0097),(58,0.0102),(60,0.0135),(62,0.015),(64,0.0108),(65,0.0106),(67,0.0128),(69,0.0148),(71,0.0105),(74,0.0142),(76,0.0138),(78,0.012),(80,0.0155),(82,0.0112),(83,0.011),(85,0.0162),(87,0.011),(90,0.016),(92,0.011),(94,0.0165),(96,0.0122),(97,0.0125),(99,0.0158),(101,0.015),(103,0.013),(106,0.0175),(108,0.0128),(112,0.0178),(115,0.0133),(119,0.0188),(121,0.016),(123,0.0145),(125,0.015),(128,0.0198),(130,0.019),(133,0.0155),(135,0.017),(138,0.0222),(141,0.0215),(145,0.018),(148,0.021),(151,0.0255),(154,0.027),(157,0.0262),(160,0.0255),(162,0.026),(165,0.029),(168,0.034),(170,0.038),(172,0.044),(173.5,0.048)]
g_rytov = [(0,0.0001),(8.5,0.0002),(9,0.06),(19.5,0.06),(20,0.001),(21,0.0001),(35,0.0001),(35.5,0.002),(36,0.06),(45.5,0.06),(46,0.0003),(49,0.0002),(49.5,0.003),(50,0.06),(55,0.06),(56,0.003),(57,0.0005),(58,0.003),(59,0.02),(60,0.06),(63,0.05),(64,0.012),(65,0.008),(66,0.015),(67,0.06),(70,0.06),(71,0.001),(72,0.02),(73,0.06),(76,0.04),(77,0.01),(78,0.002),(79,0.02),(80,0.06),(82,0.03),(83,0.006),(84,0.015),(85,0.045),(86,0.02),(87,0.002),(88,0.015),(89,0.05),(91,0.05),(92,0.012),(93,0.02),(94,0.045),(95,0.025),(96,0.006),(97,0.004),(99,0.01),(100,0.012),(102,0.01),(104,0.02),(105,0.04),(106,0.042),(107,0.025),(108,0.01),(110,0.02),(112,0.027),(113,0.02),(115,0.003),(116,0.004),(118,0.015),(119,0.022),(120,0.02),(122,0.01),(124,0.008),(126,0.025),(128,0.045),(130,0.04),(132,0.02),(134,0.016),(136,0.03),(138,0.045),(140,0.03),(142,0.018),(144,0.012),(146,0.011),(148,0.015),(150,0.027),(152,0.034),(154,0.0345),(156,0.03),(158,0.022),(160,0.015),(162,0.0135),(164,0.013),(166,0.015),(168,0.02),(170,0.03),(172,0.04),(173.5,0.046)]
g_born = [(0,0.1),(30,0.09),(60,0.07),(65,0.06),(68,0.046),(70,0.043),(72,0.036),(74,0.03),(76,0.026),(78,0.032),(80,0.04),(82,0.03),(84,0.026),(86,0.035),(88,0.025),(90,0.03),(92,0.02),(94,0.03),(96,0.021),(98,0.016),(100,0.02),(102,0.025),(104,0.018),(106,0.026),(108,0.024),(110,0.019),(112,0.022),(114,0.019),(116,0.018),(118,0.022),(119,0.024),(121,0.015),(122,0.01),(124,0.015),(126,0.027),(128,0.029),(130,0.022),(132,0.017),(134,0.02),(136,0.035),(138,0.0437),(140,0.04),(142,0.028),(144,0.016),(146,0.0115),(147,0.011),(149,0.018),(151,0.028),(153,0.035),(155,0.034),(157,0.028),(159,0.02),(161,0.013),(163,0.009),(165,0.0076),(167,0.014),(169,0.026),(171,0.036),(173,0.044)]
g_xra = [(0,0.0004),(5,0.0002),(10,0.0002),(15,0.0003),(18,0.0006),(20,0.001),(23,0.0025),(26,0.0045),(29,0.0075),(31,0.011),(33,0.016),(35,0.019),(37,0.0188),(39,0.0175),(41,0.0135),(43,0.0108),(45,0.0098),(46,0.0095),(48,0.012),(50,0.0135),(52,0.014),(54,0.0135),(56,0.0095),(57,0.0068),(58,0.008),(60,0.013),(62,0.0175),(63,0.017),(64,0.013),(65,0.0105),(67,0.013),(69,0.0155),(71,0.0105),(73,0.0155),(74,0.0168),(76,0.0135),(78,0.01),(80,0.0198),(81,0.018),(82,0.0125),(83,0.011),(85,0.0158),(87,0.0102),(90,0.018),(92,0.0115),(94,0.0178),(96,0.0115),(97,0.012),(99,0.0145),(101,0.0135),(103,0.0135),(106,0.0195),(108,0.0145),(110,0.014),(112,0.0165),(115,0.013),(118,0.0155),(120,0.017),(123,0.0155),(126,0.0185),(128,0.0205),(130,0.0195),(133,0.0175),(135,0.0185),(138,0.0222),(141,0.021),(144,0.0195),(147,0.021),(151,0.024),(154,0.0253),(157,0.0255),(160,0.0255),(163,0.027),(166,0.03),(169,0.036),(172,0.043),(173.5,0.047)]

h_exact = [(0,0.0007),(2,0.0004),(5,0.0008),(8,0.0008),(12,0.0011),(15,0.0014),(18,0.002),(21,0.0028),(24,0.004),(27,0.0057),(30,0.008),(33,0.0108),(36,0.0138),(38,0.0152),(40,0.0157),(42,0.0152),(44,0.0128),(46,0.0095),(48,0.0093),(49,0.0097),(51,0.013),(53,0.0155),(55,0.0138),(57,0.0095),(58,0.01),(60,0.0138),(62,0.0155),(64,0.0108),(65,0.0106),(67,0.0135),(69,0.0158),(71,0.0098),(73,0.0138),(74,0.0145),(76,0.0142),(78,0.0112),(80,0.0162),(82,0.011),(83,0.0107),(85,0.017),(87,0.01),(90,0.0168),(92,0.01),(94,0.0178),(96,0.0115),(97,0.012),(99,0.0165),(101,0.0155),(103,0.013),(106,0.018),(108,0.0115),(112,0.0185),(115,0.012),(119,0.02),(121,0.0165),(123,0.014),(125,0.0138),(128,0.021),(130,0.0195),(133,0.0145),(135,0.0165),(138,0.0235),(141,0.0215),(145,0.0165),(148,0.0195),(151,0.026),(154,0.029),(157,0.027),(160,0.024),(162,0.0242),(165,0.027),(168,0.033),(170,0.038),(172,0.045)]
h_rytov = [(0,0.0001),(7,0.0002),(8.5,0.004),(9,0.06),(20.5,0.06),(21,0.003),(22,0.0002),(35,0.0002),(35.7,0.004),(36,0.06),(45.5,0.06),(45.9,0.002),(46.5,0.0001),(49.3,0.0002),(49.7,0.06),(56.6,0.06),(57,0.003),(57.6,0.0003),(65,0.0005),(65.3,0.06),(66.3,0.06),(66.6,0.0005),(75.6,0.0005),(75.9,0.06),(77.5,0.06),(77.8,0.001),(86,0.002),(86.4,0.06),(87,0.06),(87.4,0.002),(96.5,0.002),(97,0.06),(99,0.06),(100,0.024),(101,0.01),(102,0.003),(103.5,0.0025),(104.3,0.06),(107.5,0.06),(108,0.0015),(108.5,0.02),(110,0.03),(112,0.06),(115,0.06),(115.5,0.001),(117,0.0006),(117.5,0.06),(122,0.06),(123,0.003),(124.5,0.003),(125,0.06),(131.5,0.06),(132.5,0.008),(133,0.06),(141.5,0.06),(142.3,0.005),(143,0.0012),(146,0.001),(147,0.003),(148,0.06),(155.5,0.06),(156.5,0.004),(158,0.0006),(160,0.0003),(165,0.0003),(168,0.002),(170,0.005),(172,0.009)]
h_born = [(0,0.09),(40,0.09),(80,0.08),(120,0.07),(130,0.05),(131.5,0.045),(132.5,0.042),(133.5,0.043),(134.5,0.046),(136,0.06),(144,0.06),(145.5,0.045),(146.7,0.0387),(148,0.0365),(148.6,0.0357),(149.5,0.04),(151,0.05),(160,0.07),(172,0.08)]
h_xra = [(0,0.0003),(10,0.0001),(20,0.0002),(22,0.001),(25,0.003),(28,0.006),(30,0.009),(32,0.013),(34,0.02),(36,0.028),(38,0.0305),(40,0.028),(42,0.018),(44,0.009),(46,0.0068),(47,0.007),(49,0.012),(51,0.017),(52,0.0168),(54,0.013),(56,0.0095),(57,0.0095),(59,0.015),(60,0.0172),(61,0.016),(63,0.011),(64,0.0105),(66,0.0158),(68,0.0155),(70,0.011),(71,0.0105),(73,0.022),(74,0.021),(76,0.012),(77,0.005),(78,0.007),(80,0.025),(81,0.021),(83,0.0075),(84,0.013),(85,0.024),(86,0.012),(87,0.004),(88,0.012),(90,0.023),(91,0.02),(92,0.0105),(94,0.028),(95,0.022),(96,0.008),(97,0.0075),(99,0.016),(101,0.015),(103,0.014),(104,0.02),(106,0.027),(107,0.02),(108,0.012),(110,0.017),(112,0.0195),(113,0.016),(115,0.008),(117,0.012),(119,0.018),(121,0.016),(123,0.0135),(125,0.022),(127,0.028),(128,0.0275),(130,0.022),(132,0.017),(134,0.019),(136,0.026),(138,0.0305),(140,0.027),(142,0.021),(144,0.017),(146,0.0165),(148,0.019),(151,0.0245),(154,0.0285),(156,0.027),(158,0.023),(160,0.0208),(162,0.021),(165,0.024),(168,0.028),(170,0.033),(172,0.039)]

re_rytov = ['4%', '11%', '24%', '92%', '218%', '344%', '480%', '930%']
re_born = ['31%', '60%', '160%', '310%', '518%', '708%', '892%', '1300%']
re_xra = ['3%', '4%', '4%', '6%', '7%', '9%', '10%', '31%']
eps_re = ['1.1', '1.5', '2', '3', '4', '5', '10', '50']
eps_im = ['0.11', '0.15', '0.2', '0.3', '0.4', '0.5', '1', '5']
letters = ['a', 'b', 'c', 'd', 'e', 'f', 'g', 'h']

series = [
    (a_exact, a_rytov, a_born, a_xra),
    (b_exact, b_rytov, b_born, b_xra),
    (c_exact, c_rytov, c_born, c_xra),
    (d_exact, d_rytov, d_born, d_xra),
    (e_exact, e_rytov, e_born, e_xra),
    (f_exact, f_rytov, f_born, f_xra),
    (g_exact, g_rytov, g_born, g_xra),
    (h_exact, h_rytov, h_born, h_xra),
]

# ---------------- layout ----------------
W, H = 1165, 1171
fig = plt.figure(figsize=(W / 100, H / 100), dpi=100)

col_px = [(65, 518), (650, 515)]
row_px = [(6, 210), (300, 504), (596, 799), (890, 1093)]
cap_y = [264, 566, 858, 1152]
leg_px = [(226, 25), (850, 17), (288, 313), (866, 307),
          (342, 604), (885, 600), (280, 895), (871, 898)]
ylims = [(0.0003, 0.0425), (0, 0.045), (0, 0.045), (0.0004, 0.0528),
         (0, 0.045), (0, 0.045), (0, 0.045), (0, 0.045)]
xmaxs = [173.5, 172.3, 173.5, 167.8, 173.5, 172.3, 173.5, 172.3]
EPS = '\u03f5'


def fmt(v, pos):
    return '0' if abs(v) < 1e-12 else f'{v:.2f}'


for i in range(8):
    r, c = divmod(i, 2)
    x0, w = col_px[c]
    top, bot = row_px[r]
    ax = fig.add_axes([x0 / W, 1 - bot / H, w / W, (bot - top) / H])
    ex, ry, bo, xr = series[i]

    t, v = zip(*ex)
    ax.plot(t, v, color='k', lw=1.6, label='Exact', zorder=3)
    t, v = zip(*ry)
    ax.plot(t, v, color='#dc6b6b', lw=0.9, dashes=(6, 3), alpha=0.9,
            label=f'Rytov (RE = {re_rytov[i]})', zorder=2)
    t, v = zip(*bo)
    ax.plot(t, v, color='#9a9a9a', lw=0.8, ls=':', marker='.', ms=2.2,
            mfc='k', mec='k', label=f'Born (RE = {re_born[i]})', zorder=2)
    t, v = zip(*xr)
    ax.plot(t, v, color='#0000ff', lw=1.8, ls=':',
            label=f'xRA-LM (RE = {re_xra[i]})', zorder=4)

    ax.set_xlim(0, xmaxs[i])
    ax.set_ylim(*ylims[i])
    ax.set_xticks(np.arange(0, 161, 20))
    lo, hi = ylims[i]
    yt = [y for y in np.arange(0, 0.0601, 0.01) if lo - 1e-9 <= y <= hi]
    ax.set_yticks(yt)
    ax.yaxis.set_major_formatter(FuncFormatter(fmt))
    ax.grid(True, color='#e3e3e3', lw=0.7)
    ax.set_axisbelow(True)
    ax.tick_params(direction='in', length=3, labelsize=12.5, color='#555555',
                   labelcolor='#262626', top=True, right=True, pad=3)
    for s in ax.spines.values():
        s.set_color('#8a8a8a')
        s.set_linewidth(0.8)
    ax.set_ylabel('|E|', fontsize=13.5, labelpad=1, color='#262626')
    ax.set_xlabel(r'$\theta_\mathregular{n}$', fontsize=14, labelpad=0,
                  color='#262626')

    lx, ly = leg_px[i]
    leg = ax.legend(loc='upper left', bbox_to_anchor=(lx / W, 1 - ly / H),
                    bbox_transform=fig.transFigure, fontsize=12.5,
                    frameon=True, fancybox=False, framealpha=1,
                    edgecolor='#777777', borderpad=0.25, labelspacing=0.2,
                    handlelength=1.8, handletextpad=0.1, borderaxespad=0,
                    numpoints=1)
    leg.get_frame().set_linewidth(0.8)
    leg.set_zorder(10)

    cap = ('(' + letters[i] + r') $\mathbfit{' + EPS + r'}_{\mathbfit{r}}'
           r' \;\mathbf{=}\; \mathbf{' + eps_re[i] + r'} \;\mathbf{+}\; '
           r'\mathbf{' + eps_im[i] + r'}\mathbfit{j}$')
    fig.text((x0 + w / 2) / W, 1 - cap_y[r] / H, cap,
             ha='center', va='center', fontsize=16, family='STIXGeneral',
             math_fontfamily='dejavuserif')

fig.savefig('out.png', dpi=100)
